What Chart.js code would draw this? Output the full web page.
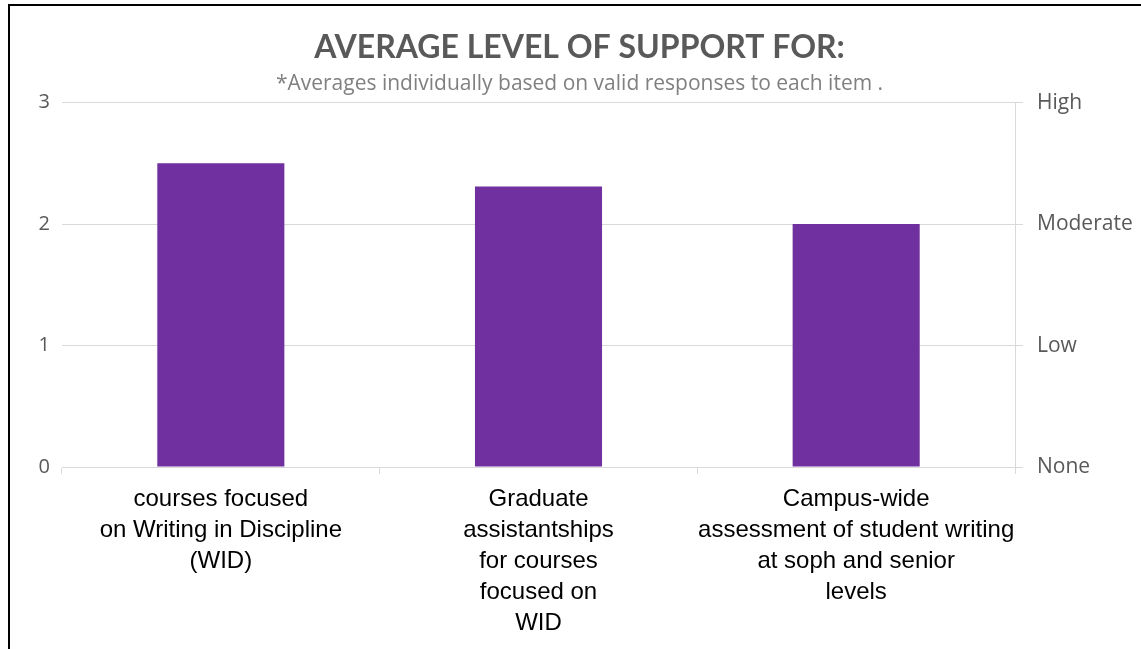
<!DOCTYPE html>
<html>
<head>
<meta charset="utf-8">
<script src="https://cdn.jsdelivr.net/npm/chart.js@4/dist/chart.umd.min.js"></script>
<style>
  html, body { margin: 0; padding: 0; background: #ffffff; }
  #wrap { position: relative; width: 1141px; height: 649px; }
</style>
</head>
<body>
<div id="wrap"><canvas id="c" width="1141" height="649"></canvas></div>
<script>
const categories = [
  ["courses focused", "on Writing in Discipline", "(WID)"],
  ["Graduate", "assistantships", "for courses", "focused on", "WID"],
  ["Campus-wide", "assessment of student writing", "at soph and senior", "levels"]
];
const averageSupport = [2.5, 2.31, 2.0];
const levelLabels = ["None", "Low", "Moderate", "High"];
const titleText = "AVERAGE LEVEL OF SUPPORT FOR:";
const subtitleText = "*Averages individually based on valid responses to each item .";

const frame = {
  id: 'frame',
  afterDraw(chart) {
    const ctx = chart.ctx;
    ctx.save();
    ctx.strokeStyle = '#000';
    ctx.lineWidth = 2;
    ctx.beginPath();
    ctx.moveTo(9, 649);
    ctx.lineTo(9, 5);
    ctx.lineTo(1141, 5);
    ctx.stroke();
    ctx.restore();
  }
};

Chart.defaults.font.family = "'Open Sans', 'Noto Sans', sans-serif";

new Chart(document.getElementById('c'), {
  type: 'bar',
  data: {
    labels: categories,
    datasets: [{
      data: averageSupport,
      backgroundColor: '#7030A0',
      borderWidth: 0,
      barPercentage: 0.4,
      categoryPercentage: 1.0,
      yAxisID: 'y'
    }]
  },
  options: {
    responsive: false,
    animation: false,
    layout: { padding: { left: 18, right: 0, top: 0, bottom: 0 } },
    plugins: {
      legend: { display: false },
      tooltip: { enabled: false },
      title: {
        display: true,
        text: titleText,
        color: '#595959',
        font: { size: 32, weight: 'bold', family: "Lato, 'Open Sans', sans-serif", lineHeight: 1.2 },
        padding: { top: 28, bottom: 0 }
      },
      subtitle: {
        display: true,
        text: subtitleText,
        color: '#808080',
        font: { size: 21, family: "'Open Sans', sans-serif", lineHeight: 1.2 },
        padding: { top: 5, bottom: 6 }
      }
    },
    scales: {
      x: {
        offset: true,
        grid: {
          offset: true,
          drawOnChartArea: false,
          drawTicks: true,
          tickLength: 7,
          color: '#d9d9d9'
        },
        border: { display: true, color: '#d9d9d9' },
        ticks: {
          color: '#000000',
          font: { size: 24, family: "'Liberation Sans', Arial, sans-serif", lineHeight: 1.29 },
          autoSkip: false,
          maxRotation: 0,
          minRotation: 0,
          padding: 10
        },
        afterFit(scale) { scale.height = 182; }
      },
      y: {
        position: 'left',
        min: 0, max: 3,
        grid: { color: '#d9d9d9', drawTicks: false },
        border: { display: false },
        ticks: {
          stepSize: 1,
          color: '#595959',
          font: { size: 20 },
          padding: 12
        },
        afterFit(scale) { scale.width = 44; }
      },
      y2: {
        display: true,
        position: 'right',
        min: 0, max: 3,
        grid: { drawOnChartArea: false, drawTicks: true, tickLength: 8, color: '#d9d9d9' },
        border: { display: true, color: '#d9d9d9' },
        ticks: {
          stepSize: 1,
          color: '#595959',
          font: { size: 21 },
          padding: 14,
          callback: (v) => levelLabels[v]
        },
        afterFit(scale) { scale.width = 126; }
      }
    }
  },
  plugins: [frame]
});
</script>
</body>
</html>
